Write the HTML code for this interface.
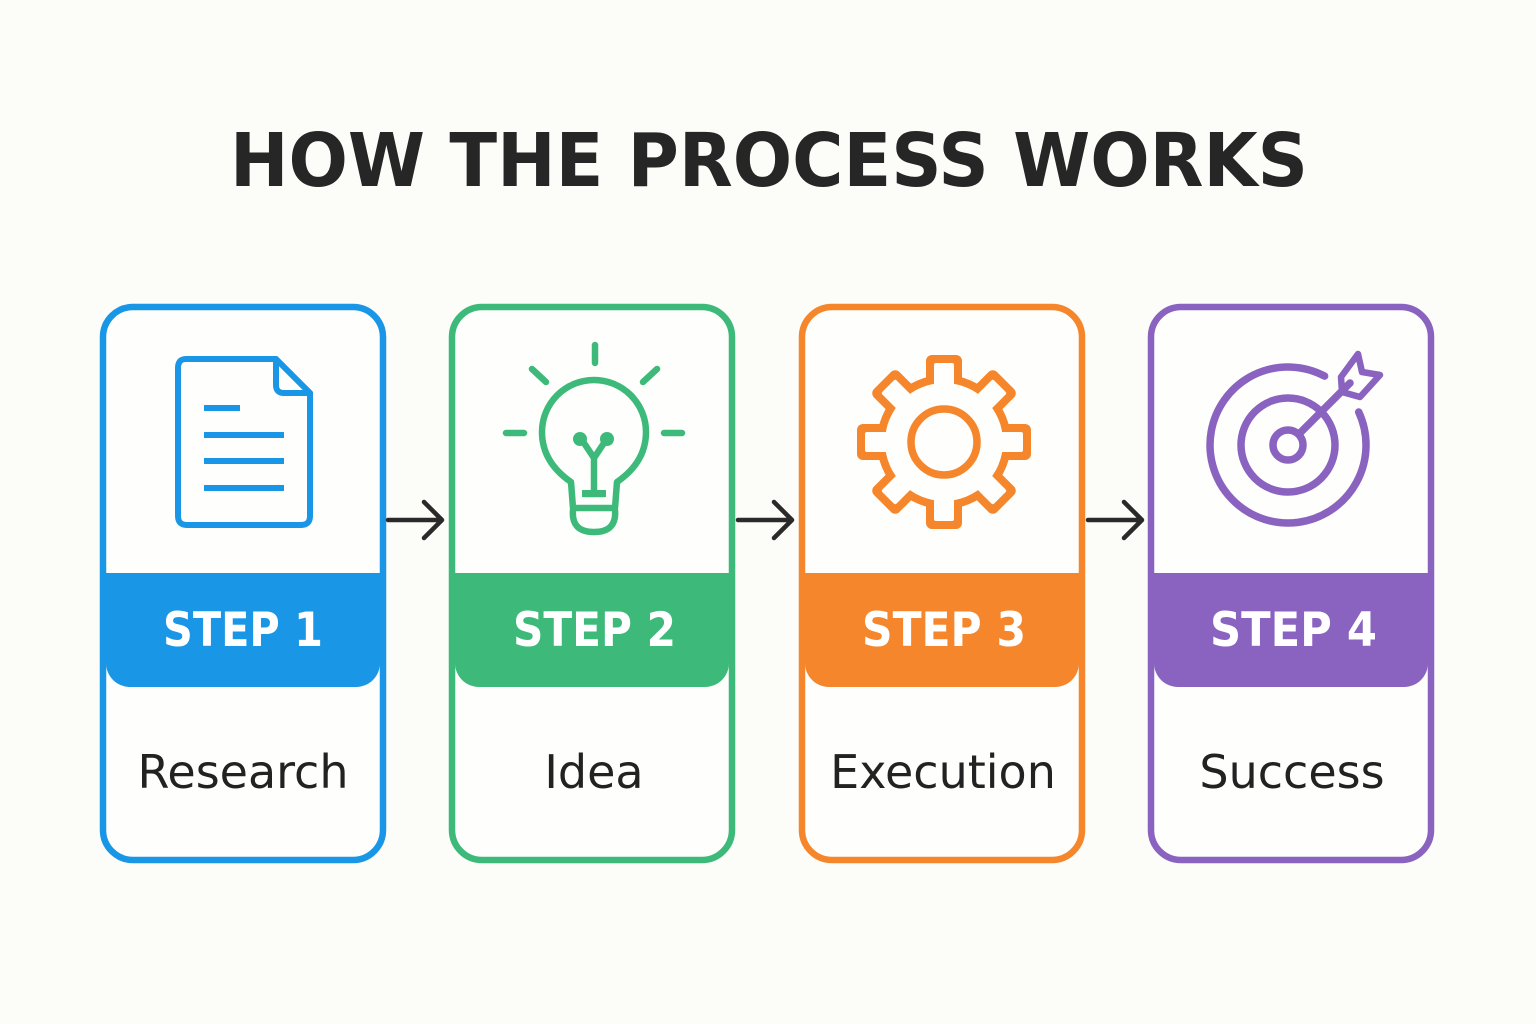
<!DOCTYPE html>
<html><head><meta charset="utf-8"><style>
html,body{margin:0;padding:0;background:#fcfcf9;}
svg{display:block;}
text{font-family:"DejaVu Sans","Liberation Sans",sans-serif;}
</style></head><body>
<svg width="1536" height="1024" viewBox="0 0 1536 1024" xmlns="http://www.w3.org/2000/svg">
<rect width="1536" height="1024" fill="#fcfcf9"/>
<text x="230" y="186" font-size="74" font-weight="bold" fill="#262626" textLength="1078" lengthAdjust="spacingAndGlyphs">HOW THE PROCESS WORKS</text>

<defs>
<g id="card">
<rect x="3" y="2" width="280" height="553" rx="30" fill="#fefefc" stroke="currentColor" stroke-width="6.5"/>
<rect x="0" y="268" width="286" height="80" fill="currentColor"/>
<rect x="6" y="300" width="274" height="82" rx="24" fill="currentColor"/>
</g>
</defs>

<g color="#1a96e6" transform="translate(100,305)"><use href="#card"/></g>
<g color="#3dba7a" transform="translate(449,305)"><use href="#card"/></g>
<g color="#f5862b" transform="translate(799,305)"><use href="#card"/></g>
<g color="#8a63c0" transform="translate(1148,305)"><use href="#card"/></g>

<g font-size="47" font-weight="bold" fill="#fff">
<text x="163" y="646" textLength="160" lengthAdjust="spacingAndGlyphs">STEP 1</text>
<text x="513" y="646" textLength="163" lengthAdjust="spacingAndGlyphs">STEP 2</text>
<text x="862" y="646" textLength="164" lengthAdjust="spacingAndGlyphs">STEP 3</text>
<text x="1210" y="646" textLength="167" lengthAdjust="spacingAndGlyphs">STEP 4</text>
</g>
<g font-size="46" fill="#222" text-anchor="middle">
<text x="243" y="788">Research</text>
<text x="594" y="788">Idea</text>
<text x="943" y="788">Execution</text>
<text x="1292" y="788">Success</text>
</g>

<g stroke="#2a2a2a" stroke-width="4.5" fill="none" stroke-linecap="round" stroke-linejoin="round">
<path d="M388 520 H442 M424 502 L442 520 L424 538"/>
<path d="M738 520 H792 M774 502 L792 520 L774 538"/>
<path d="M1088 520 H1142 M1124 502 L1142 520 L1124 538"/>
</g>

<g stroke="#1a96e6" stroke-width="6" fill="none" stroke-linejoin="round" stroke-linecap="round">
<path d="M186 359 H276 L310 393 V516 Q310 525 301 525 H187 Q178 525 178 516 V368 Q178 359 186 359 Z"/>
<path d="M276 359 V385 Q276 393 284 393 H310"/>
<path d="M204 408 H240 M204 435 H284 M204 461 H284 M204 488 H284" stroke-linecap="butt"/>
</g>

<g stroke="#3dba7a" stroke-width="6.5" fill="none" stroke-linecap="round" stroke-linejoin="round">
<path d="M595 345 V363 M532 369 L546 382 M657 369 L643 382 M506 433 H524 M664 433 H682"/>
<path d="M573 508 L571 482 Q542 462 542 432 A52 52 0 0 1 646 432 Q646 462 617 482 L615 508 Z"/>
<path d="M573 510 Q571 532 594 532 Q617 532 615 510"/>
<path d="M594 492 V458 M594 458 L582 440 M594 458 L606 440 M583 494 H605" stroke-linecap="butt"/>
</g>
<circle cx="580" cy="439" r="7" fill="#3dba7a"/>
<circle cx="607" cy="439" r="7" fill="#3dba7a"/>
<rect x="582" y="490" width="24" height="7" fill="#3dba7a"/>

<g transform="translate(944,442)">
<g fill="#f5862b">
<circle r="67"/>
<g id="teethO"><rect x="-18" y="-87" width="36" height="40" rx="6"/></g>
<use href="#teethO" transform="rotate(45)"/><use href="#teethO" transform="rotate(90)"/><use href="#teethO" transform="rotate(135)"/>
<use href="#teethO" transform="rotate(180)"/><use href="#teethO" transform="rotate(225)"/><use href="#teethO" transform="rotate(270)"/><use href="#teethO" transform="rotate(315)"/>
</g>
<g fill="#fefefc">
<circle r="59"/>
<g id="teethI"><rect x="-10" y="-79" width="20" height="40" rx="2"/></g>
<use href="#teethI" transform="rotate(45)"/><use href="#teethI" transform="rotate(90)"/><use href="#teethI" transform="rotate(135)"/>
<use href="#teethI" transform="rotate(180)"/><use href="#teethI" transform="rotate(225)"/><use href="#teethI" transform="rotate(270)"/><use href="#teethI" transform="rotate(315)"/>
</g>
<circle r="33" fill="none" stroke="#f5862b" stroke-width="7.5"/>
</g>

<g stroke="#8a63c0" stroke-width="7.5" fill="none" stroke-linecap="round" stroke-linejoin="round">
<path d="M1358.7 412 A78 78 0 1 1 1324.6 376.1"/>
<circle cx="1288" cy="445" r="47"/>
<circle cx="1288" cy="445" r="15"/>
<path d="M1299 434 L1350 383"/>
<path d="M1341 377 L1358 354 L1362 372 L1380 375 L1360 397 L1342 392 Z" stroke-width="6.5"/>
</g>
</svg>
</body></html>
